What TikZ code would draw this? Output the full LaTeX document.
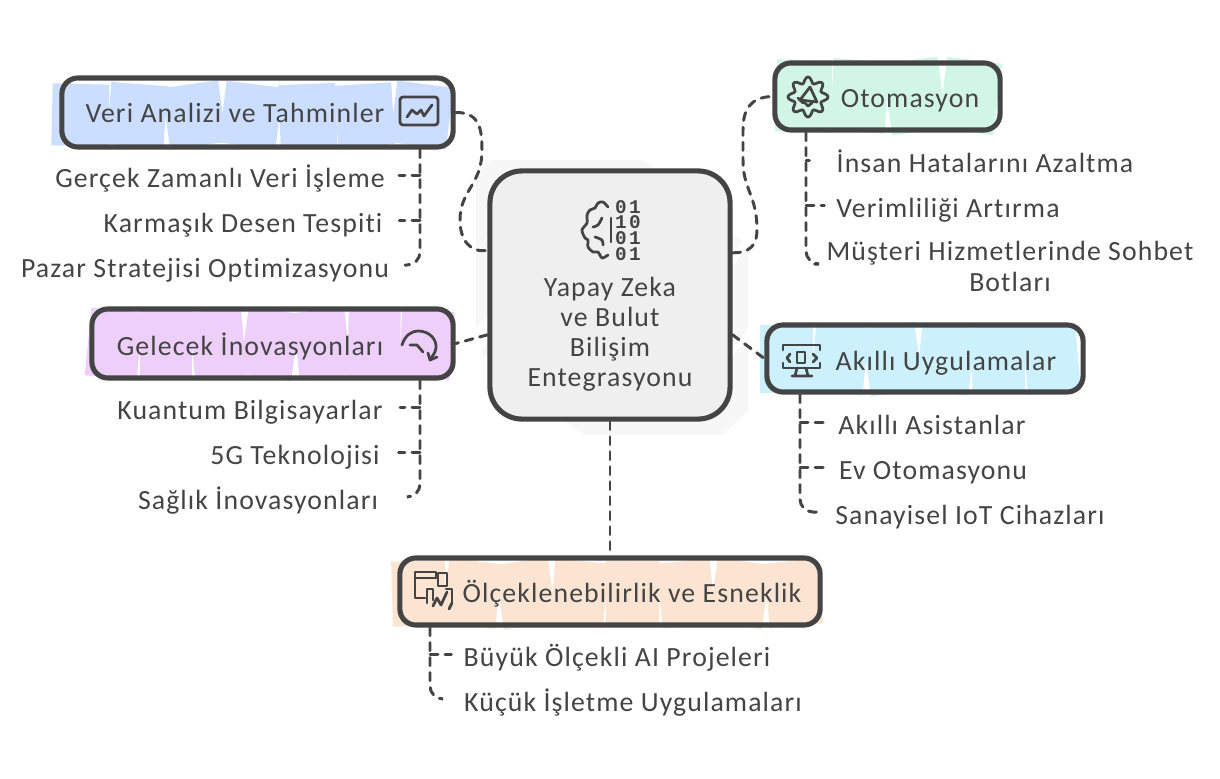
\documentclass[tikz,border=0pt]{standalone}
\usepackage{fontspec}
\setmainfont{Carlito}[LetterSpace=4,Ligatures=NoCommon]
\newfontfamily\bitfont{Liberation Mono}[BoldFont={Liberation Mono Bold},LetterSpace=12]
\usetikzlibrary{calc}
\definecolor{ink}{HTML}{444444}
\definecolor{veriblue}{HTML}{CCDEFF}
\definecolor{otomgreen}{HTML}{D2F6E6}
\definecolor{gelpurple}{HTML}{EECFFA}
\definecolor{akilcyan}{HTML}{CDF0FD}
\definecolor{olcorange}{HTML}{FBE5D2}
\definecolor{yzgrey}{HTML}{EFEFEF}
\definecolor{yzfaint}{HTML}{F7F7F7}
\newcommand{\scribfill}[5]{%
  \pgfmathtruncatemacro{\blkn}{(#4-#2)/50}%
  \pgfmathsetmacro{\blkw}{(#4-#2)/\blkn}%
  \foreach \k in {1,...,\blkn}{%
    \pgfmathsetmacro{\xa}{#2+(\k-1)*\blkw}%
    \pgfmathsetmacro{\xb}{\xa+\blkw}%
    \pgfmathsetmacro{\xm}{(\xa+\xb)/2}%
    \pgfmathsetmacro{\ym}{(#3+#5)/2}%
    \pgfmathsetmacro{\ang}{8*sin(137*\k+#2)}%
    \fill[#1,rotate around={\ang:(\xm,\ym)}] (\xa,#3) rectangle (\xb,#5);
  }}
\tikzset{
  box/.style={draw=ink,line width=1.45pt,rounded corners=0.16cm,inner sep=0pt},
  txt/.style={text=ink,font=\fontsize{7.9}{8.55}\selectfont,inner sep=0pt,align=center},
  leaf/.style={txt,outer xsep=0.12cm,text height=0.24cm,text depth=0pt},
  link/.style={draw=ink,line width=0.85pt,dash pattern=on 0.08cm off 0.07cm,line cap=round},
  trunk/.style={link,rounded corners=0.13cm},
  icon/.style={draw=ink,line width=0.78pt,line cap=round,line join=round},
  bit/.style={text=ink,font=\bitfont\bfseries\fontsize{5.5}{5.5}\selectfont,inner sep=0pt}
}
\begin{document}
\begin{tikzpicture}[x=0.01cm,y=-0.01cm]
\useasboundingbox (0,0) rectangle (1220,778);
\begin{scope}
  \clip (476,160) rectangle (748,434);
  \begin{scope}[rotate around={-40:(610,295)}]
    \scribfill{yzfaint}{430}{170}{790}{420}
  \end{scope}
\end{scope}
\scribfill{veriblue}{52}{84}{450}{146}
\scribfill{otomgreen}{776}{60}{998}{132}
\scribfill{gelpurple}{88}{310}{452}{378}
\scribfill{akilcyan}{760}{325}{1078}{393}
\scribfill{olcorange}{392}{561}{820}{626}

\node[box,fill=yzgrey,rounded corners=0.32cm,minimum width=2.4cm,minimum height=2.48cm] (yz) at (610,295) {};
\node[box,minimum width=3.91cm,minimum height=0.69cm] (veri) at (257.5,112.5) {};
\node[box,minimum width=2.25cm,minimum height=0.67cm] (otom) at (887.5,96.5) {};
\node[box,minimum width=3.61cm,minimum height=0.69cm] (gelecek) at (272.5,343.5) {};
\node[box,minimum width=3.16cm,minimum height=0.67cm] (akilli) at (925,358.5) {};
\node[box,minimum width=4.2cm,minimum height=0.67cm] (olcek) at (610,591.5) {};

\node[txt] (yzText) at (610,334) {Yapay Zeka\\ve Bulut\\Bilişim\\Entegrasyonu};
\node[txt,anchor=base] (veriText) at (235,122) {Veri Analizi ve Tahminler};
\node[txt,anchor=base] (otomText) at (910,107) {Otomasyon};
\node[txt,anchor=base] (gelecekText) at (250,355) {Gelecek İnovasyonları};
\node[txt,anchor=base] (akilliText) at (946,370) {Akıllı Uygulamalar};
\node[txt,anchor=base] (olcekText) at (632,602) {Ölçeklenebilirlik ve Esneklik};

\node[leaf,minimum width=3.34cm] (gercek) at (220,175) {Gerçek Zamanlı Veri İşleme};
\node[leaf,minimum width=2.76cm,outer xsep=0.17cm] (desen) at (243,220) {Karmaşık Desen Tespiti};
\node[leaf,minimum width=3.7cm,outer xsep=0.15cm] (pazar) at (205,265) {Pazar Stratejisi Optimizasyonu};
\node[leaf,minimum width=2.66cm,outer xsep=0.17cm] (kuantum) at (250,407) {Kuantum Bilgisayarlar};
\node[leaf,minimum width=1.66cm,outer xsep=0.19cm] (besg) at (295,452) {5G Teknolojisi};
\node[leaf,minimum width=2.5cm,outer xsep=0.24cm] (saglik) at (258,497) {Sağlık İnovasyonları};
\node[leaf,minimum width=3.11cm,outer xsep=0.2cm] (insan) at (985,160) {İnsan Hatalarını Azaltma};
\node[leaf,minimum width=2.2cm] (verim) at (948,205) {Verimliliği Artırma};
\node[leaf,minimum width=3.61cm,text height=0.54cm] (musteri) at (1010,264) {Müşteri Hizmetlerinde Sohbet\\Botları};
\node[leaf,minimum width=1.91cm] (asistan) at (932,422) {Akıllı Asistanlar};
\node[leaf,minimum width=1.86cm] (evotom) at (933,467) {Ev Otomasyonu};
\node[leaf,minimum width=2.78cm] (sanayi) at (970,512) {Sanayisel IoT Cihazları};
\node[leaf,minimum width=3.07cm] (buyuk) at (617,654) {Büyük Ölçekli AI Projeleri};
\node[leaf,minimum width=3.4cm,outer xsep=0.2cm] (kucuk) at (633,699) {Küçük İşletme Uygulamaları};

\foreach \val [count=\n] in {01,10,01,01}
  \node[bit] (bit\n) at (628,191+15.8*\n) {\val};

\draw[link] (veri.east) .. controls (480,112) and (482,130) .. (482,150) .. controls (482,185) and (460,190) .. (460,220) .. controls (460,240) and (470,253) .. (yz.160.7);
\draw[link] (yz.19.3) .. controls (750,253) and (757,245) .. (757,230) .. controls (757,195) and (743,190) .. (743,160) -- (743,130) .. controls (743,110) and (750,97) .. (otom.west);
\draw[link] (yz.198.4) -- (gelecek.east);
\draw[link] (yz.-18.4) -- (akilli.west);
\draw[link] (yz.south) -- (olcek.north);

\coordinate (veriTrunk) at (420,200);
\coordinate (gelTrunk) at (420,450);
\coordinate (otomTrunk) at (806,200);
\coordinate (akilTrunk) at (800,470);
\coordinate (olcTrunk) at (430,670);
\draw[trunk] (veri.south -| veriTrunk) |- (pazar.east);
\draw[link] (veriTrunk |- gercek.east) -- (gercek.east);
\draw[link] (veriTrunk |- desen.east) -- (desen.east);
\draw[trunk] (gelecek.south -| gelTrunk) |- (saglik.east);
\draw[link] (gelTrunk |- kuantum.east) -- (kuantum.east);
\draw[link] (gelTrunk |- besg.east) -- (besg.east);
\draw[trunk] (otom.south -| otomTrunk) |- (musteri.west);
\draw[link] (otomTrunk |- insan.west) -- (insan.west);
\draw[link] (otomTrunk |- verim.west) -- (verim.west);
\draw[trunk] (akilli.south -| akilTrunk) |- (sanayi.west);
\draw[link] (akilTrunk |- asistan.west) -- (asistan.west);
\draw[link] (akilTrunk |- evotom.west) -- (evotom.west);
\draw[trunk] (olcek.south -| olcTrunk) |- (kucuk.west);
\draw[link] (olcTrunk |- buyuk.west) -- (buyuk.west);

\draw[icon] plot[smooth] coordinates {(608,207) (603,202) (598,203) (595,208) (590,210) (587,215) (587,223) (582,230) (585,238) (588,240) (588,247) (593,252) (598,252) (602,258) (608,255)};
\draw[icon] plot[smooth] coordinates {(602,218) (598,225) (593,227)};
\draw[icon] plot[smooth] coordinates {(595,237) (602,240) (603,245)};
\draw[icon] (611,218) -- (611,242);

\draw[icon,rounded corners=0.03cm] (400,97) rectangle (438,125);
\draw[icon] (407,117) -- (412,110) -- (417,114) -- (421,110) -- (424,116) -- (432,105);

\draw[icon] plot[domain=0:360,samples=97,smooth] ({808+(17+3*cos(8*\x))*cos(\x)},{97+(17+3*cos(8*\x))*sin(\x)});
\draw[icon] (800,100) -- (810,87) -- (817,102) -- cycle;
\draw[icon] (798,98) -- (803,103) (805,103) -- (808,106) -- (812,103);

\draw[icon] (402,345) .. controls (405,335) and (412,331) .. (418,331) .. controls (430,331) and (437,340) .. (436,348) .. controls (435,353) and (433,356) .. (430,359);
\draw[icon] (428,353) -- (430,360) -- (437,357);
\draw[icon] (410,345) -- (417,345) -- (423,352);

\draw[icon] (783,350) -- (783,345) -- (820,345) -- (820,350);
\draw[icon] (783,363) -- (783,368) -- (820,368) -- (820,363);
\draw[icon] (790,354) -- (787,358) -- (790,362);
\draw[icon] (813,354) -- (817,358) -- (813,362);
\draw[icon] (797,352) rectangle (805,363);
\draw[icon] (797,368) -- (795,376) (806,368) -- (808,376) (792,376) -- (812,376);

\draw[icon] (436,578) -- (436,572) -- (415,572) -- (415,598) -- (425,598) (415,578) -- (436,578);
\draw[icon] (438,573) rectangle (447,586);
\draw[icon] (427,603) -- (427,589) -- (433,589) -- (433,600);
\draw[icon] (452,603) -- (452,589) -- (446,589);
\draw[icon] (433,606) -- (437,598) -- (441,605) -- (447,592) (452,603) -- (449,609);
\end{tikzpicture}
\end{document}
